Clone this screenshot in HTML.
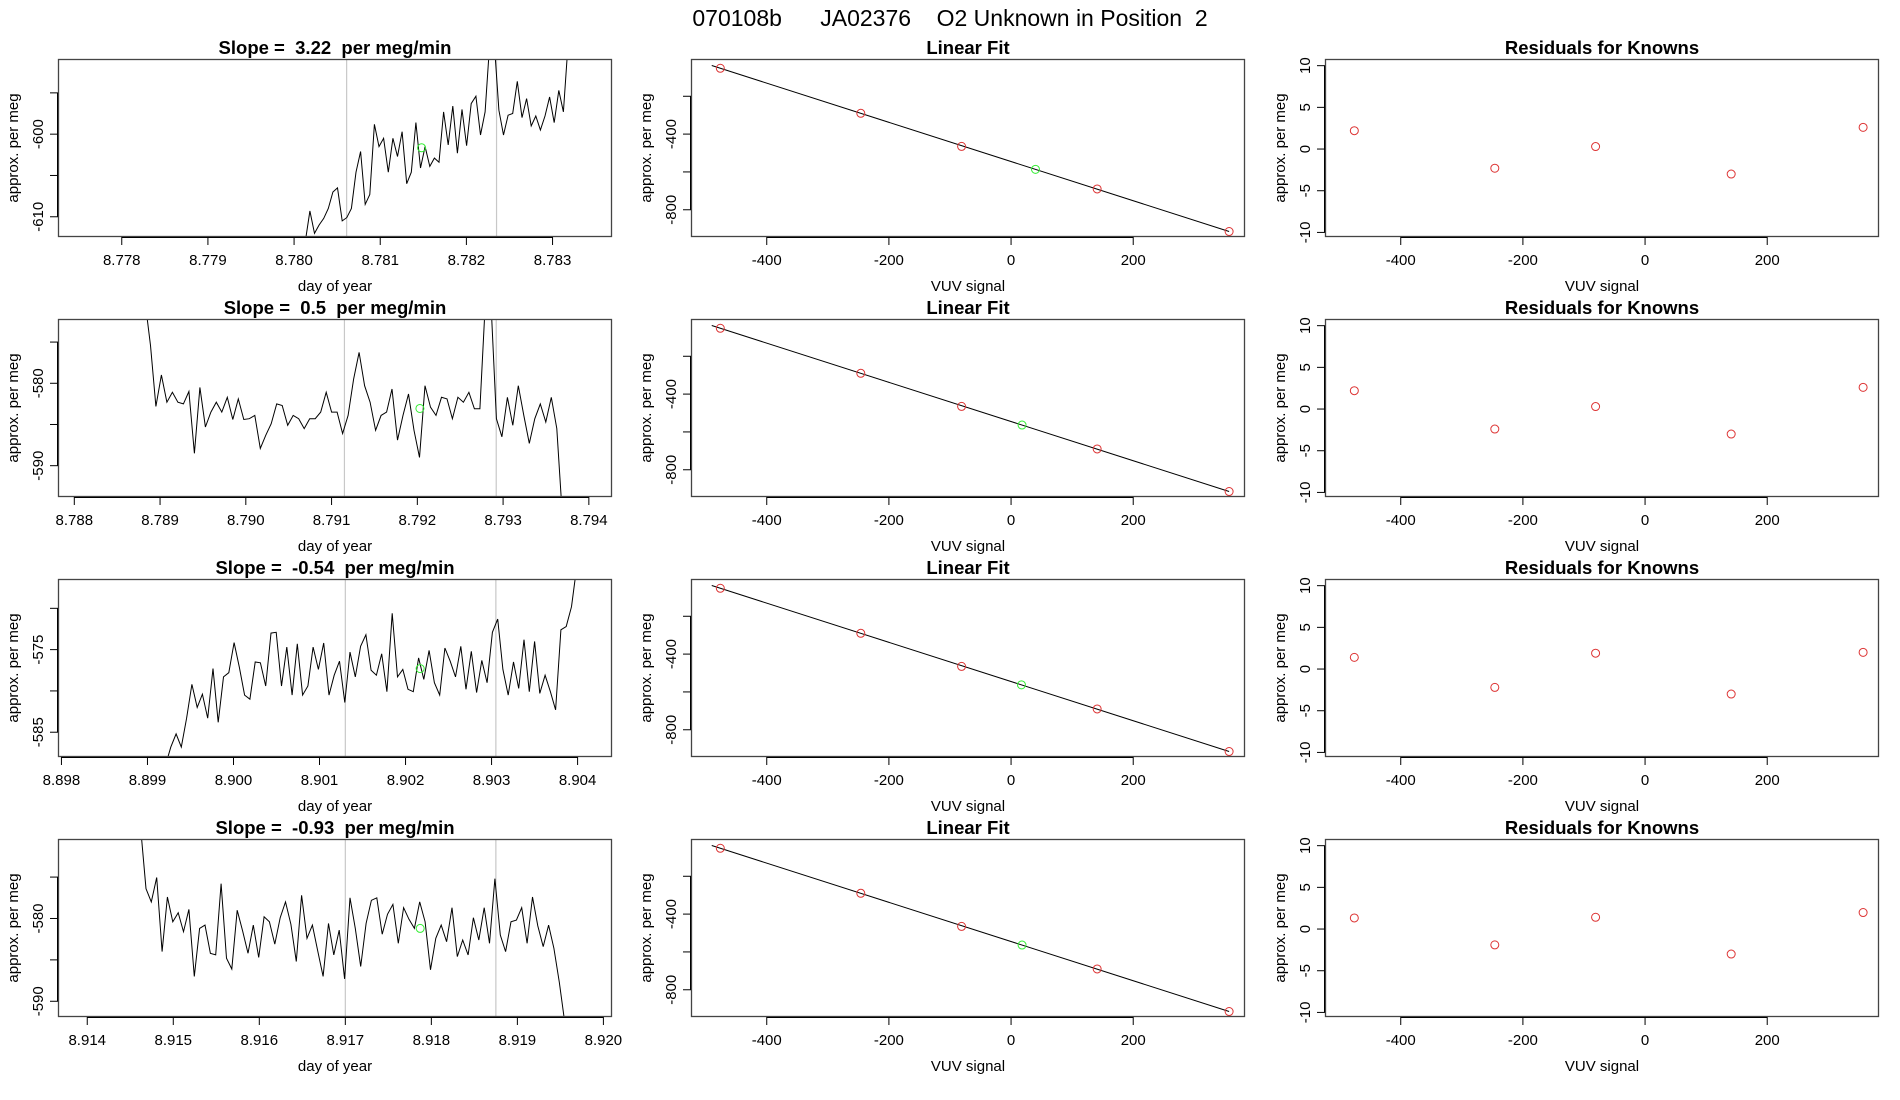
<!DOCTYPE html>
<html><head><meta charset="utf-8">
<style>
html,body{margin:0;padding:0;background:#fff;}
svg{display:block;font-family:"Liberation Sans",Arial,sans-serif;}
svg text{white-space:pre;}
</style></head>
<body>
<svg id="chart" width="1900" height="1100" viewBox="0 0 1900 1100" xmlns="http://www.w3.org/2000/svg" xml:space="preserve">
<text x="950" y="26" text-anchor="middle" font-size="23">070108b      JA02376    O2 Unknown in Position  2</text>
</svg>
<script>
// ---- data ----
const slopes = ["3.22","0.5","-0.54","-0.93"];
const ts1Y = [-613,-609.3,-612,-611,-610.2,-609,-607,-606.5,-610.5,-610.1,-609,-604.6,-602.1,-608.5,-607.3,-598.8,-601.5,-600.5,-604.6,-600.5,-602.7,-599.7,-606,-604.6,-598.6,-604.1,-601.5,-603.9,-602.9,-603.4,-597.3,-601.3,-596.6,-602.3,-597,-601.4,-596.3,-595.4,-600.1,-597.3,-589,-589,-597.1,-600.1,-597.7,-597.5,-593.6,-598,-595.7,-599,-597.8,-599.5,-597.8,-595.5,-598.6,-594.7,-597.3,-589];
const ts2Y = [-570,-570,-575.4,-582.8,-579.0,-582.3,-581.1,-582.3,-582.5,-581.0,-588.5,-580.5,-585.3,-583.5,-582.3,-583.5,-581.7,-584.4,-581.9,-584.4,-584.3,-583.9,-587.9,-586.3,-584.9,-582.5,-582.7,-585.1,-583.9,-584.3,-585.5,-584.3,-584.3,-583.5,-581.1,-583.5,-583.5,-586.1,-583.9,-579.5,-576.25,-580.3,-582.3,-585.7,-583.9,-583.5,-580.7,-586.9,-583.9,-581.3,-585.7,-589.0,-580.3,-582.9,-583.9,-581.7,-581.9,-584.3,-581.7,-582.3,-581.1,-583.1,-583.1,-570,-570,-584.3,-586.5,-581.7,-585.1,-580.3,-583.9,-587.3,-584.3,-582.5,-584.7,-581.7,-585.5,-596];
const ts3Y = [-589,-586.8,-585.2,-586.8,-583.3,-579.2,-582.0,-580.4,-583.3,-577.3,-583.8,-578.3,-577.8,-574.15,-577.1,-580.5,-581.0,-576.5,-576.6,-579.4,-573.0,-572.9,-579.4,-574.7,-580.5,-574.3,-580.5,-579.4,-574.7,-577.4,-574.2,-580.5,-578.1,-576.4,-581.4,-575.3,-578.3,-574.6,-573.2,-577.5,-578.1,-575.5,-580.1,-570.6,-578.3,-577.4,-579.8,-580.1,-576.0,-578.6,-575.1,-579.0,-580.5,-574.8,-576.4,-578.3,-574.6,-579.8,-575.2,-580.2,-576.3,-579.0,-572.9,-571.3,-577.4,-580.5,-576.5,-579.7,-573.8,-580.1,-574.0,-580.3,-578.1,-580.1,-582.3,-572.6,-572.2,-569.8,-565];
const ts4Y = [-569,-576.4,-578.0,-575.05,-584.0,-577.4,-580.4,-579.3,-581.6,-578.9,-587.0,-581.2,-580.8,-584.2,-584.4,-575.8,-584.8,-586.1,-579.0,-581.5,-584.2,-580.8,-584.7,-579.8,-580.4,-583.1,-579.9,-578.0,-580.7,-585.2,-577.2,-582.4,-580.8,-583.9,-587.0,-580.6,-584.4,-581.4,-587.3,-577.5,-581.2,-585.8,-580.6,-577.8,-577.5,-581.9,-579.5,-578.3,-583.0,-578.7,-580.1,-581.2,-578.0,-580.4,-586.2,-582.4,-580.8,-582.8,-578.7,-584.6,-582.6,-584.4,-579.9,-582.6,-578.7,-583.0,-575.2,-582.0,-584.0,-580.4,-580.2,-578.7,-583.0,-577.4,-580.9,-583.4,-580.8,-583.6,-587.7,-592.5];
const tsStart = [8.78013, 8.78876, 8.89921, 8.91462];
const tsEnd = [8.78318, 8.79369, 8.90399, 8.91955];
const tsXMin = [8.77726, 8.78781, 8.89796, 8.91366];
const tsXMax = [8.78369, 8.79427, 8.90440, 8.92010];
const tsYMin = [-612.45, -593.8, -588.0, -591.9];
const tsYMax = [-590.9, -572.2, -566.45, -570.4];
const tsXTicks = [
  ["8.778","8.779","8.780","8.781","8.782","8.783"],
  ["8.788","8.789","8.790","8.791","8.792","8.793","8.794"],
  ["8.898","8.899","8.900","8.901","8.902","8.903","8.904"],
  ["8.914","8.915","8.916","8.917","8.918","8.919","8.920"]];
const tsYTicks = [[-595,-600,-605,-610],[-575,-580,-585,-590],[-570,-575,-580,-585],[-575,-580,-585,-590]];
const tsYLabels = [[-600,-610],[-580,-590],[-575,-585],[-580,-590]];
const vLines = [[8.78061,8.78235],[8.79115,8.79292],[8.9013,8.90305],[8.917,8.91875]];
const greenT = [8.78148, 8.79203, 8.90217, 8.91787];
const greenV = [-601.65, -583.06, -577.3, -581.2];

const knownX = [-476, -246, -81, 141, 357];
const knownY = [-52, -290, -465, -690, -915];
const unknownX = [40, 18, 17, 18];
const fitSlope = -1.036;
const fitIntercept = -545;
const residuals = [[2.2,-2.3,0.3,-3.0,2.6],[2.2,-2.4,0.3,-3.0,2.6],[1.4,-2.2,1.9,-3.0,2.0],[1.33,-1.9,1.41,-3.0,1.98]];
const vuvTicks = [-400,-200,0,200];
const fitYTicks = [-800,-600,-400,-200];
const fitYLabels = [-800,-400];
const resTicks = [-10,-5,0,5,10];

// ---- layout ----
const NS = "http://www.w3.org/2000/svg";
const svg = document.getElementById('chart');
const colL = [58, 691, 1325], colR = [612, 1245, 1879];
const rowT = [59, 319, 579, 839], PH = 178;
function mk(tag, attrs, parent){ const e=document.createElementNS(NS,tag); for(const k in attrs) e.setAttribute(k,attrs[k]); (parent||svg).appendChild(e); return e; }
function txt(x,y,s,size,parent,anchor,rot,bold){
  const t=mk('text',{x:x,y:y,'font-size':size,'text-anchor':anchor||'middle'},parent);
  if(rot) t.setAttribute('transform','rotate(-90 '+x+' '+y+')');
  if(bold) t.setAttribute('font-weight','bold');
  t.textContent=s; return t;
}
function panel(r,c,title,xlab,xmin,xmax,ymin,ymax,name){
  const g=mk('g',{});
  
  
  const L=colL[c],R=colR[c],T=rowT[r],B=T+PH;
  const sx=v=>L+(v-xmin)/(xmax-xmin)*(R-L);
  const sy=v=>B-(v-ymin)/(ymax-ymin)*(B-T);
  const clipId='clip'+r+'_'+c;
  const cp=mk('clipPath',{id:clipId},g); mk('rect',{x:L,y:T,width:R-L,height:B-T},cp);
  const tt=txt((L+R)/2,T-5,title,18.5,g,'middle',false,true);
  
  
  const xl=txt((L+R)/2,B+54,xlab,15,g);
  
  
  const yl=txt(L-40,(T+B)/2,'approx. per meg',15,g,'middle',true);
  
  
  return {g,L,R,T,B,sx,sy,clipId};
}
function xAxis(p,vals,labels){
  const a=mk('g',{stroke:'#000','stroke-width':1},p.g);
  
  
  const xs=vals.map(p.sx);
  mk('line',{x1:xs[0],x2:xs[xs.length-1],y1:p.B+0.5,y2:p.B+0.5},a);
  vals.forEach((v,i)=>{
    mk('line',{x1:xs[i],x2:xs[i],y1:p.B,y2:p.B+8},a);
    const t=txt(xs[i],p.B+28,labels[i],15,p.g);
    
    
  });
}
function yAxis(p,vals,labeled){
  const a=mk('g',{stroke:'#000','stroke-width':1},p.g);
  
  
  const ys=vals.map(p.sy);
  mk('line',{x1:p.L-0.5,x2:p.L-0.5,y1:Math.min(...ys),y2:Math.max(...ys)},a);
  vals.forEach((v,i)=>{
    mk('line',{x1:p.L-8,x2:p.L,y1:ys[i],y2:ys[i]},a);
    if(labeled.indexOf(v)>=0){
      const t=txt(p.L-15,ys[i],String(v),15,p.g,'middle',true);
      
      
    }
  });
}
function box(p){
  const b=mk('rect',{x:p.L+0.5,y:p.T+0.5,width:p.R-p.L-1,height:p.B-p.T-1,fill:'none',stroke:'#444','stroke-width':1.3},p.g);
  
  
}

for(let r=0;r<4;r++){
  const ys=[ts1Y,ts2Y,ts3Y,ts4Y][r];
  const p=panel(r,0,'Slope =  '+slopes[r]+'  per meg/min','day of year',tsXMin[r],tsXMax[r],tsYMin[r],tsYMax[r],'timeseries-panel-'+(r+1));
  vLines[r].forEach(v=>{
    const l=mk('line',{x1:p.sx(v),x2:p.sx(v),y1:p.T,y2:p.B,stroke:'#c8c8c8','stroke-width':1.2},p.g);
    
    
  });
  const dt=(tsEnd[r]-tsStart[r])/(ys.length-1);
  const pts=ys.map((v,i)=>p.sx(tsStart[r]+i*dt).toFixed(1)+','+p.sy(v).toFixed(1)).join(' ');
  const pl=mk('polyline',{points:pts,fill:'none',stroke:'#000','stroke-width':1,'clip-path':'url(#'+p.clipId+')'},p.g);
  
  
  const gc=mk('circle',{cx:p.sx(greenT[r]),cy:p.sy(greenV[r]),r:4,fill:'none',stroke:'#33ee33','stroke-width':1},p.g);
  
  
  box(p);
  xAxis(p,tsXTicks[r].map(Number),tsXTicks[r]);
  yAxis(p,tsYTicks[r],tsYLabels[r]);

  const q=panel(r,1,'Linear Fit','VUV signal',-524,383,-944,-3,'linear-fit-panel-'+(r+1));
  const fl=mk('line',{x1:q.sx(-490),y1:q.sy(fitIntercept+fitSlope*-490),x2:q.sx(knownX[4]),y2:q.sy(fitIntercept+fitSlope*knownX[4]),stroke:'#000','stroke-width':1},q.g);
  
  
  knownX.forEach((x,i)=>{
    const c=mk('circle',{cx:q.sx(x),cy:q.sy(knownY[i]),r:4,fill:'none',stroke:'#dd3333','stroke-width':1},q.g);
    
    
  });
  const uc=mk('circle',{cx:q.sx(unknownX[r]),cy:q.sy(fitIntercept+fitSlope*unknownX[r]),r:4,fill:'none',stroke:'#33ee33','stroke-width':1},q.g);
  
  
  box(q);
  xAxis(q,vuvTicks,vuvTicks.map(String));
  yAxis(q,fitYTicks,fitYLabels);

  const s=panel(r,2,'Residuals for Knowns','VUV signal',-524,383,-10.55,10.8,'residuals-panel-'+(r+1));
  knownX.forEach((x,i)=>{
    const c=mk('circle',{cx:s.sx(x),cy:s.sy(residuals[r][i]),r:4,fill:'none',stroke:'#dd3333','stroke-width':1},s.g);
    
    
  });
  box(s);
  xAxis(s,vuvTicks,vuvTicks.map(String));
  yAxis(s,resTicks,resTicks);
}
</script>
</body></html>
